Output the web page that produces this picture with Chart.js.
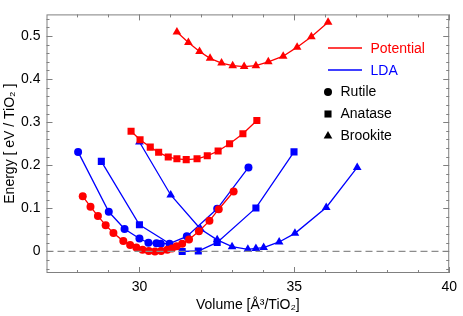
<!DOCTYPE html>
<html>
<head>
<meta charset="utf-8">
<script src="https://cdn.jsdelivr.net/npm/chart.js@4.4.1/dist/chart.umd.min.js"></script>
<style>
  html, body { margin: 0; padding: 0; background: #fff; }
  #wrap { width: 463px; height: 316px; }
</style>
</head>
<body>
<div id="wrap"><canvas id="myChart" width="463" height="316"></canvas></div>
<script>
'use strict';

// data: volume [A^3/TiO2], energy [eV/TiO2]
let potRutileV = [28.17, 28.42, 28.66, 28.91, 29.16, 29.48, 29.7, 29.9, 30.1, 30.3, 30.5, 30.7, 30.9, 31.05, 31.2, 31.38, 31.6, 31.92, 32.26, 32.56, 33.04];
let potRutileE = [0.128, 0.104, 0.082, 0.061, 0.043, 0.024, 0.015, 0.009, 0.004, 0.001, 0.000, 0.001, 0.004, 0.007, 0.012, 0.018, 0.028, 0.047, 0.071, 0.098, 0.139];

let potAnataseV = [29.73, 30.02, 30.35, 30.62, 30.93, 31.21, 31.51, 31.86, 32.19, 32.54, 32.91, 33.34, 33.79];
let potAnataseE = [0.279, 0.259, 0.242, 0.230, 0.219, 0.215, 0.213, 0.215, 0.222, 0.233, 0.250, 0.273, 0.304];

let potBrookiteV = [31.21, 31.58, 31.94, 32.28, 32.65, 33.01, 33.38, 33.76, 34.16, 34.64, 35.09, 35.55, 36.09];
let potBrookiteE = [0.509, 0.485, 0.464, 0.448, 0.437, 0.431, 0.429, 0.431, 0.440, 0.453, 0.474, 0.498, 0.532];

let ldaRutileV = [28.02, 29.01, 29.52, 30.0, 30.29, 30.55, 30.69, 30.97, 31.53, 32.51, 33.52];
let ldaRutileE = [0.231, 0.092, 0.052, 0.030, 0.020, 0.019, 0.018, 0.018, 0.035, 0.099, 0.195];

let ldaAnataseV = [28.77, 30.0, 31.38, 31.9, 32.51, 33.76, 34.99];
let ldaAnataseE = [0.209, 0.062, 0.000, 0.001, 0.021, 0.101, 0.231];

let ldaBrookiteV = [30.0, 31.01, 31.97, 32.51, 32.99, 33.5, 33.76, 34.01, 34.51, 35.02, 36.03, 37.03];
let ldaBrookiteE = [0.254, 0.131, 0.052, 0.027, 0.011, 0.005, 0.007, 0.009, 0.022, 0.042, 0.102, 0.195];

let zeroLineV = [27, 40];
let zeroLineE = [0, 0];

// tick labels
let xTicks = [30, 35, 40];
let yTicks = [0, 0.1, 0.2, 0.3, 0.4, 0.5];
let xMinor = [28, 29, 31, 32, 33, 34, 36, 37, 38, 39];

const RED = '#ff0000';
const BLUE = '#0000ff';
const FRAME = '#808080';
const FONT = '"Liberation Sans", Arial, Helvetica, sans-serif';
const SIZES = {circle: 4, rect: 5, triangle: 5};

function toPoints(xs, ys){
  let pts = [];
  for (let i in xs){
    pts.push({x: xs[i], y: ys[i]});
  }
  return pts;
}

function series(label, xs, ys, color, style){
  return {
    label: label,
    data: toPoints(xs, ys),
    borderColor: color,
    backgroundColor: color,
    borderWidth: 1.3,
    pointStyle: style,
    pointRadius: SIZES[style],
    pointBorderWidth: 0,
    pointBackgroundColor: color,
    tension: 0
  };
}

// frame with inward ticks on all four sides + the inner legend
const framePlugin = {
  id: 'frame',
  afterDraw(chart){
    let c = chart.ctx;
    let area = chart.chartArea;
    let xs = chart.scales.x;
    let ys = chart.scales.y;
    c.save();
    c.strokeStyle = FRAME;
    c.lineWidth = 1;
    c.strokeRect(area.left + 0.5, area.top + 0.5, area.right - area.left - 1, area.bottom - area.top - 1);

    function xTick(v, len){
      let px = Math.round(xs.getPixelForValue(v)) + 0.5;
      c.beginPath();
      c.moveTo(px, area.bottom); c.lineTo(px, area.bottom - len);
      c.moveTo(px, area.top); c.lineTo(px, area.top + len);
      c.stroke();
    }
    function yTick(v, len){
      let py = Math.round(ys.getPixelForValue(v)) + 0.5;
      c.beginPath();
      c.moveTo(area.left, py); c.lineTo(area.left + len, py);
      c.moveTo(area.right, py); c.lineTo(area.right - len, py);
      c.stroke();
    }
    for (let v of xTicks) xTick(v, 6);
    for (let v of xMinor) xTick(v, 3);
    for (let v of yTicks) yTick(v, 6);
    for (let k = -2; k <= 27; k++){
      if (k % 5 !== 0) yTick(k * 0.02, 3);
    }

    // legend
    let lx = 328, tx = 370.5;
    c.font = '14px ' + FONT;
    c.textBaseline = 'middle';
    c.lineWidth = 1.3;
    c.strokeStyle = RED;
    c.beginPath(); c.moveTo(lx, 48); c.lineTo(362, 48); c.stroke();
    c.fillStyle = RED;
    c.fillText('Potential', tx, 49);
    c.strokeStyle = BLUE;
    c.beginPath(); c.moveTo(lx, 70); c.lineTo(362, 70); c.stroke();
    c.fillStyle = BLUE;
    c.fillText('LDA', tx, 71);

    let shapes = [['circle', 'Rutile', 92], ['rect', 'Anatase', 114], ['triangle', 'Brookite', 136]];
    for (let s of shapes){
      c.fillStyle = '#000';
      c.strokeStyle = '#000';
      Chart.helpers.drawPoint(c, {pointStyle: s[0], radius: SIZES[s[0]], borderWidth: 0}, lx, s[2]);
      c.fillStyle = '#000';
      c.fillText(s[1], 340.5, s[2] + 0.5);
    }
    c.restore();
  }
};

const ctx = document.getElementById('myChart');

let chartObj = {
  type: 'line',
  data: {
    datasets: [
      {
        label: 'zero',
        data: toPoints(zeroLineV, zeroLineE),
        borderColor: '#8c8c8c',
        borderWidth: 1.3,
        borderDash: [7, 4],
        pointRadius: 0
      },
      series('Potential Rutile', potRutileV, potRutileE, RED, 'circle'),
      series('Potential Anatase', potAnataseV, potAnataseE, RED, 'rect'),
      series('Potential Brookite', potBrookiteV, potBrookiteE, RED, 'triangle'),
      series('LDA Rutile', ldaRutileV, ldaRutileE, BLUE, 'circle'),
      series('LDA Anatase', ldaAnataseV, ldaAnataseE, BLUE, 'rect'),
      series('LDA Brookite', ldaBrookiteV, ldaBrookiteE, BLUE, 'triangle')
    ]
  },
  options: {
    responsive: false,
    animation: false,
    devicePixelRatio: 1,
    layout: {
      padding: {left: 0, right: 10, top: 3, bottom: 0}
    },
    plugins: {
      legend: {display: false},
      tooltip: {enabled: false}
    },
    scales: {
      x: {
        type: 'linear',
        min: 27,
        max: 40,
        grid: {display: false, drawTicks: false},
        border: {display: false},
        afterBuildTicks: (scale) => { scale.ticks = xTicks.map(v => ({value: v})); },
        afterFit: (scale) => { scale.height = 43; },
        ticks: {
          color: '#000',
          padding: 6,
          maxRotation: 0,
          font: {family: FONT, size: 14},
          callback: (v) => String(v)
        },
        title: {
          display: true,
          text: 'Volume [Å³/TiO₂]',
          color: '#000',
          font: {family: FONT, size: 14},
          padding: {top: 0, bottom: 2}
        }
      },
      y: {
        type: 'linear',
        min: -0.05,
        max: 0.55,
        grid: {display: false, drawTicks: false},
        border: {display: false},
        afterBuildTicks: (scale) => { scale.ticks = yTicks.map(v => ({value: v})); },
        afterFit: (scale) => { scale.width = 46.5; },
        ticks: {
          color: '#000',
          padding: 6,
          font: {family: FONT, size: 14},
          callback: (v) => String(Math.round(v * 10) / 10)
        },
        title: {
          display: true,
          text: 'Energy [ eV / TiO₂ ]',
          color: '#000',
          font: {family: FONT, size: 14},
          padding: {top: 2, bottom: 0}
        }
      }
    }
  },
  plugins: [framePlugin]
};

new Chart(ctx, chartObj);
</script>
</body>
</html>
